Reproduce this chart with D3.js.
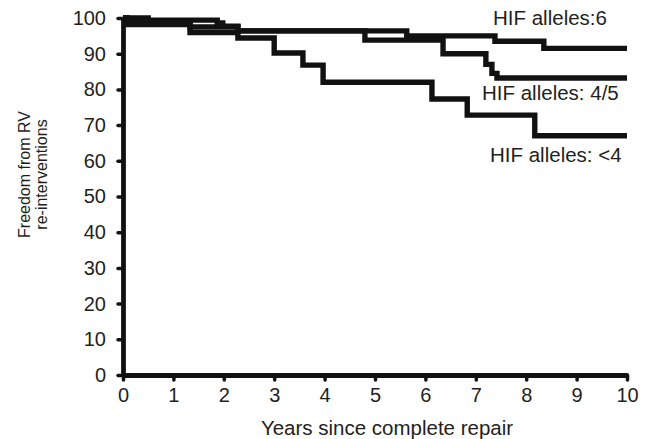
<!DOCTYPE html>
<html>
<head>
<meta charset="utf-8">
<script src="https://cdn.jsdelivr.net/npm/d3@7"></script>
<style>
  body { margin: 0; background: #fff; }
  svg { display: block; }
  text { font-family: "Liberation Sans", Arial, Helvetica, sans-serif; fill: #231f20; }
</style>
</head>
<body>
<div id="chart"></div>
<script>
// Kaplan-Meier steps (years, % free from re-intervention)
const hif6Years = [0, 0.5, 1.87, 1.98, 2.28, 5.63, 7.38, 8.35, 10];
const hif6Free = [100, 99.4, 98.6, 97.7, 96.4, 95.0, 93.5, 91.5, 91.5];

const hif45Years = [0, 0.08, 1.33, 2.28, 4.8, 6.35, 7.2, 7.32, 7.42, 10];
const hif45Free = [100, 99.0, 97.5, 96.4, 93.8, 90.0, 87.0, 84.5, 83.2, 83.2];

const hifLt4Years = [0, 0.08, 1.33, 2.28, 3.0, 3.57, 3.97, 6.13, 6.83, 8.17, 10];
const hifLt4Free = [100, 98.2, 95.9, 94.4, 90.2, 86.8, 82.0, 77.3, 72.8, 67.0, 67.0];

const xTicks = [0, 1, 2, 3, 4, 5, 6, 7, 8, 9, 10];
const yTicks = [0, 10, 20, 30, 40, 50, 60, 70, 80, 90, 100];

const seriesLabels = ['HIF alleles:6', 'HIF alleles: 4/5', 'HIF alleles: <4'];

(function() {
    const width = 647, height = 439;
    const margin = {top: 18, right: 20, bottom: 64, left: 123};

    const svg = d3.select('#chart')
        .append('svg')
        .attr('width', width)
        .attr('height', height);

    const x = d3.scaleLinear().domain([0, 10]).range([margin.left, width - margin.right]);
    const y = d3.scaleLinear().domain([0, 100]).range([height - margin.bottom, margin.top]);

    // Axes
    const xAxis = svg.append('g')
        .attr('transform', `translate(0,${y(0)})`)
        .call(d3.axisBottom(x).tickValues(xTicks).tickSize(5).tickSizeOuter(0).tickPadding(8));

    const yAxis = svg.append('g')
        .attr('transform', `translate(${x(0)},0)`)
        .call(d3.axisLeft(y).tickValues(yTicks).tickSize(5).tickSizeOuter(0).tickPadding(12));

    [xAxis, yAxis].forEach(g => {
        g.select('.domain')
            .attr('stroke', '#111')
            .attr('stroke-width', 4.8);
        g.selectAll('.tick line')
            .attr('stroke', '#111')
            .attr('stroke-width', 3.5)
            .attr('stroke-linecap', 'round');
        g.selectAll('.tick text')
            .attr('font-size', 20)
            .attr('fill', '#231f20')
            .style('font-family', '"Liberation Sans", Arial, sans-serif');
    });

    // Survival curves
    const line = d3.line()
        .x(d => x(d[0]))
        .y(d => y(d[1]))
        .curve(d3.curveStepAfter);

    const series = [
        d3.zip(hif6Years, hif6Free),
        d3.zip(hif45Years, hif45Free),
        d3.zip(hifLt4Years, hifLt4Free)
    ];

    svg.append('g')
        .selectAll('path')
        .data(series)
        .enter()
        .append('path')
        .attr('d', line)
        .attr('fill', 'none')
        .attr('stroke', '#111')
        .attr('stroke-width', 5.4)
        .attr('stroke-linejoin', 'miter');

    // Curve labels
    const labelPos = [[493, 25], [482, 100], [490, 162]];
    svg.append('g')
        .selectAll('text')
        .data(seriesLabels)
        .enter()
        .append('text')
        .attr('x', (d, i) => labelPos[i][0])
        .attr('y', (d, i) => labelPos[i][1])
        .attr('font-size', 20.5)
        .text(d => d);

    // Axis titles
    svg.append('text')
        .attr('x', 387)
        .attr('y', 435)
        .attr('text-anchor', 'middle')
        .attr('font-size', 20.5)
        .text('Years since complete repair');

    const yTitle = svg.append('text')
        .attr('transform', `translate(30,${(y(0) + y(100)) / 2 - 22}) rotate(-90)`)
        .attr('text-anchor', 'middle')
        .attr('font-size', 16);
    yTitle.append('tspan').attr('x', 0).attr('dy', 0).text('Freedom from RV');
    yTitle.append('tspan').attr('x', 0).attr('dy', 17).text('re-interventions');
})();
</script>
</body>
</html>
